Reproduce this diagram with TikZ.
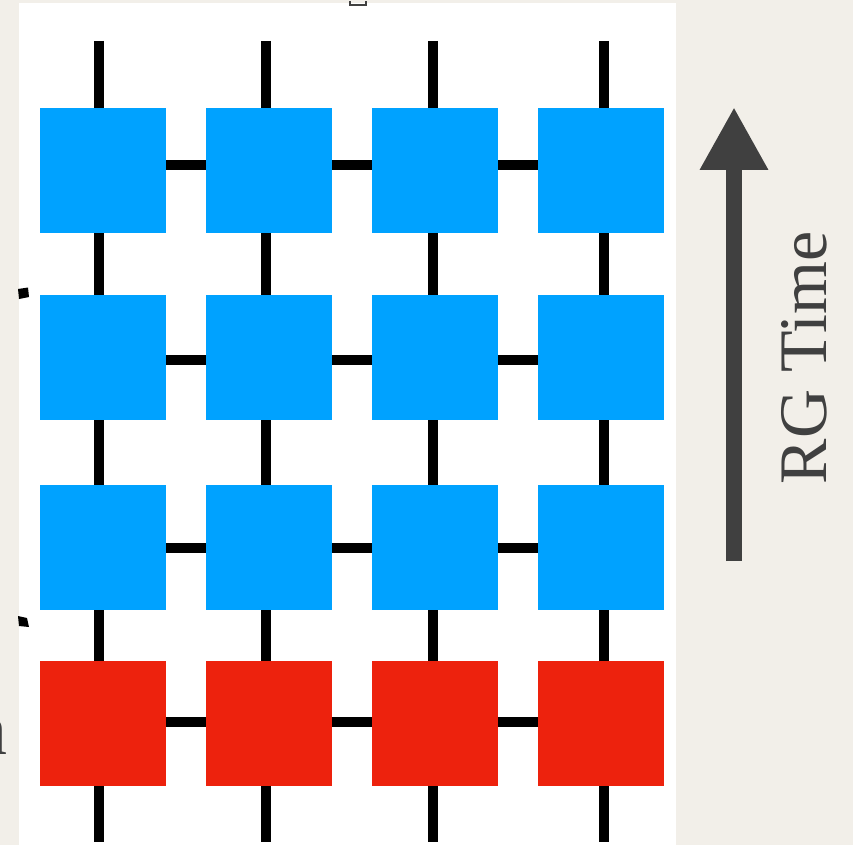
\documentclass[tikz,border=0pt]{standalone}
\usepackage{fontspec}
\newfontfamily\labelserif{Liberation Serif}
\usetikzlibrary{arrows.meta,calc}
\pgfdeclarelayer{paper}
\pgfdeclarelayer{wires}
\pgfsetlayers{paper,wires,main}

\definecolor{paperbg}{HTML}{F2EFE9}
\definecolor{tensorblue}{HTML}{00A2FF}
\definecolor{tensorred}{HTML}{ED220D}
\definecolor{inkgray}{HTML}{404040}

\tikzset{
  tensor/.style={rectangle, inner sep=0pt, minimum width=126pt, minimum height=125pt},
  bluet/.style={tensor, fill=tensorblue},
  redt/.style={tensor, fill=tensorred},
  wire/.style={black, line width=10pt},
  rgarrow/.style={inkgray, line width=16pt, -{Triangle[width=64pt,length=63pt]}}
}

\begin{document}
\begin{tikzpicture}[x=1pt,y=-1pt]
  \useasboundingbox (0,0) rectangle (853,845);

  % paper and white panel
  \begin{pgfonlayer}{paper}
    \fill[paperbg] (0,0) rectangle (853,845);
    \fill[white] (19,3) rectangle (676,845);
  \end{pgfonlayer}

  % tensor grid: rows 1-3 blue, row 4 red
  \foreach \c/\x in {1/103,2/269,3/435,4/601}{
    \node[bluet] (s1\c) at (\x,170.5) {};
    \node[bluet] (s2\c) at (\x,357.5) {};
    \node[bluet] (s3\c) at (\x,547.5) {};
    \node[redt]  (s4\c) at (\x,723) {};
  }

  % vertical legs through each column
  \foreach \c/\x in {1/98.5,2/266,3/433,4/604}{
    \coordinate (top\c) at (\x,41);
    \coordinate (bot\c) at (\x,842);
  }
  \begin{pgfonlayer}{wires}
    \foreach \c in {1,2,3,4}{
      \draw[wire] (top\c) -- (bot\c);
    }
    % horizontal bonds
    \foreach \a/\b in {1/2,2/3,3/4}{
      \draw[wire] ([yshift=5.5pt]s1\a.east) -- ([yshift=5.5pt]s1\b.west);
      \draw[wire] ([yshift=-2.5pt]s2\a.east) -- ([yshift=-2.5pt]s2\b.west);
      \draw[wire] (s3\a.east) -- (s3\b.west);
      \draw[wire] ([yshift=1pt]s4\a.east) -- ([yshift=1pt]s4\b.west);
    }
  \end{pgfonlayer}

  % RG time arrow and label
  \coordinate (rgfrom) at (734,561);
  \coordinate (rgto) at (734,107);
  \draw[rgarrow] (rgfrom) -- (rgto);
  \node[rotate=90, anchor=base, inner sep=0pt, text=inkgray,
        font=\labelserif\fontsize{68}{68}\selectfont] (rglabel) at (826,358) {RG Time};

  % small marks along the edges
  \fill[black] (18,289) -- (28,287.5) -- (29,297) -- (19,299) -- cycle;
  \fill[black] (18,616) -- (27,618) -- (29,627) -- (19,626) -- cycle;
  \draw[inkgray, line width=2pt] (350,1) -- (350,5) -- (366,5) -- (366,1);
  \node[anchor=base east, inner sep=0pt, text=inkgray,
        font=\labelserif\fontsize{74}{74}\selectfont] (edgeletter) at (8,754) {n};
\end{tikzpicture}
\end{document}
